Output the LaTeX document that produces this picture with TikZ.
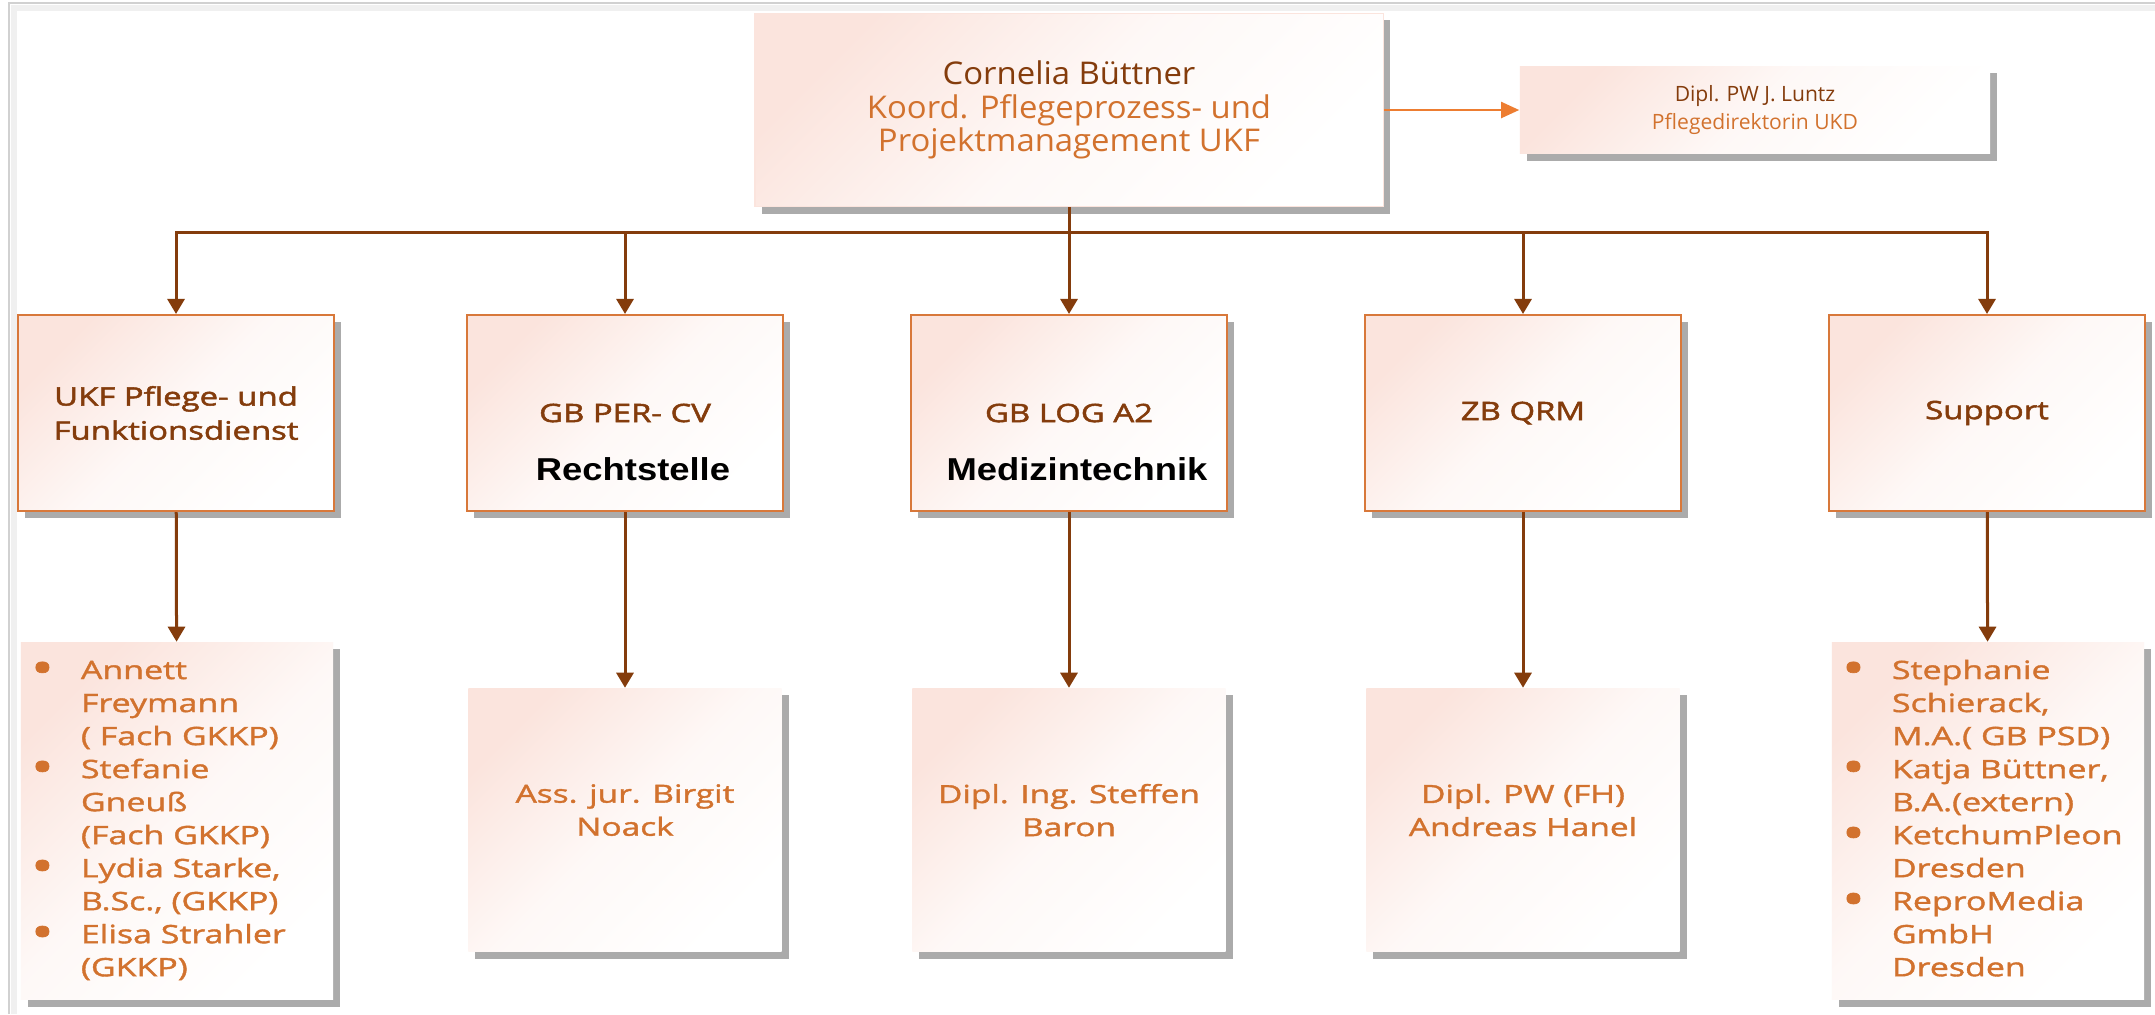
\documentclass[tikz,border=0pt]{standalone}
\usepackage{fontspec}
\setmainfont{Open Sans}
\newfontfamily\headfont[FakeStretch=1.05]{Open Sans}
\newfontfamily\unitfont[FakeStretch=1.3,FakeBold=2]{Open Sans}
\newfontfamily\staffont[FakeStretch=1.34,FakeBold=1.5]{Open Sans}
\newfontfamily\deptfont[FakeStretch=1.15]{Liberation Sans}
\usetikzlibrary{arrows.meta,shadows}
\definecolor{darkbrown}{HTML}{843C0C}
\definecolor{rust}{HTML}{D2722E}
\definecolor{boxline}{HTML}{D8783A}
\definecolor{blush}{HTML}{FBE4DD}
\definecolor{pointer}{HTML}{ED7D31}
\newcommand\dotmark{\hspace{.08cm}\raisebox{-.05cm}{\fontsize{13}{9}\selectfont •}}

\begin{document}
\begin{tikzpicture}[x=0.01cm,y=-0.01cm,
  box/.style={rectangle,top color=blush,bottom color=white,middle color=blush!25,shading angle=45,
    drop shadow={shadow xshift=.07cm,shadow yshift=-.07cm,fill=black!65},align=center,inner sep=0pt},
  unit/.style={box,draw=boxline,line width=.02cm,minimum width=3.16cm,minimum height=1.96cm,
    text=darkbrown,font=\unitfont\fontsize{7.2}{9.7}\selectfont},
  dept/.style={font=\deptfont\bfseries\fontsize{9}{10}\selectfont,text=black,yshift=-.56cm,xshift=.08cm},
  staff/.style={box,minimum width=3.13cm,minimum height=2.63cm,text depth=.2cm,text=rust,font=\staffont\fontsize{7.1}{9.4}\selectfont},
  list/.style={box,minimum width=3.12cm,minimum height=3.57cm,text=rust,font=\staffont\fontsize{7.2}{9.39}\selectfont},
  link/.style={draw=darkbrown,line width=.03cm,-{Triangle[width=.17cm,length=.15cm]}},
  bus/.style={link,to path={|- (\tikztotarget |- bus) -- (\tikztotarget) \tikztonodes}}]

  \useasboundingbox (0,0) rectangle (2155,1014);
  \fill[white] (0,0) rectangle (2155,1014);
  \draw[black!6,line width=.06cm] (14,1014) -- (14,8) -- (2155,8);
  \draw[black!18,line width=.025cm] (9,1014) -- (9,3) -- (2155,3);

  \node[box,draw=blush,minimum width=6.28cm,minimum height=1.93cm,font=\headfont\fontsize{8.9}{9.5}\selectfont] (top) at (1069,110)
    {\color{darkbrown}Cornelia Büttner\\\color{rust}Koord. Pflegeprozess- und\\\color{rust}Projektmanagement UKF};
  \node[box,minimum width=4.70cm,minimum height=.87cm,font=\fontsize{6}{7.7}\selectfont] (dir) at (1755,110)
    {\color{darkbrown}Dipl. PW J. Luntz\\\color{rust}Pflegedirektorin UKD};
  \coordinate (bus) at (1069,232);

  \node[unit] (u1) at (176,413) {UKF Pflege- und\\Funktionsdienst};
  \node[unit,label={[dept]center:Rechtstelle}] (u2) at (625,413) {GB PER- CV};
  \node[unit,label={[dept]center:Medizintechnik}] (u3) at (1069,413) {GB LOG A2};
  \node[unit] (u4) at (1523,413) {ZB QRM};
  \node[unit] (u5) at (1987,413) {Support};

  \node[list] (p1) at (177,821) {\begin{tabular}{@{}p{.58cm}@{}p{2.5cm}@{}}
    \dotmark & Annett\\ & Freymann\\ & ( Fach GKKP)\\
    \dotmark & Stefanie\\ & Gneuß\\ & (Fach GKKP)\\
    \dotmark & Lydia Starke,\\ & B.Sc., (GKKP)\\
    \dotmark & Elisa Strahler\\ & (GKKP)\end{tabular}};
  \node[staff] (p2) at (625,820) {Ass. jur. Birgit\\Noack};
  \node[staff] (p3) at (1069,820) {Dipl. Ing. Steffen\\Baron};
  \node[staff] (p4) at (1523,820) {Dipl. PW (FH)\\Andreas Hanel};
  \node[list] (p5) at (1988,821) {\begin{tabular}{@{}p{.58cm}@{}p{2.5cm}@{}}
    \dotmark & Stephanie\\ & Schierack,\\ & M.A.( GB PSD)\\
    \dotmark & Katja Büttner,\\ & B.A.(extern)\\
    \dotmark & KetchumPleon\\ & Dresden\\
    \dotmark & ReproMedia\\ & GmbH\\ & Dresden\end{tabular}};

  \path (top) edge[draw=pointer,line width=.02cm,-{Triangle[width=.16cm,length=.18cm]}] (dir);
  \path (top) edge[bus] (u1)
    (top) edge[bus] (u2)
    (top) edge[bus] (u3)
    (top) edge[bus] (u4)
    (top) edge[bus] (u5);
  \path (u1) edge[link] (p1)
    (u2) edge[link] (p2)
    (u3) edge[link] (p3)
    (u4) edge[link] (p4)
    (u5) edge[link] (p5);
\end{tikzpicture}
\end{document}
